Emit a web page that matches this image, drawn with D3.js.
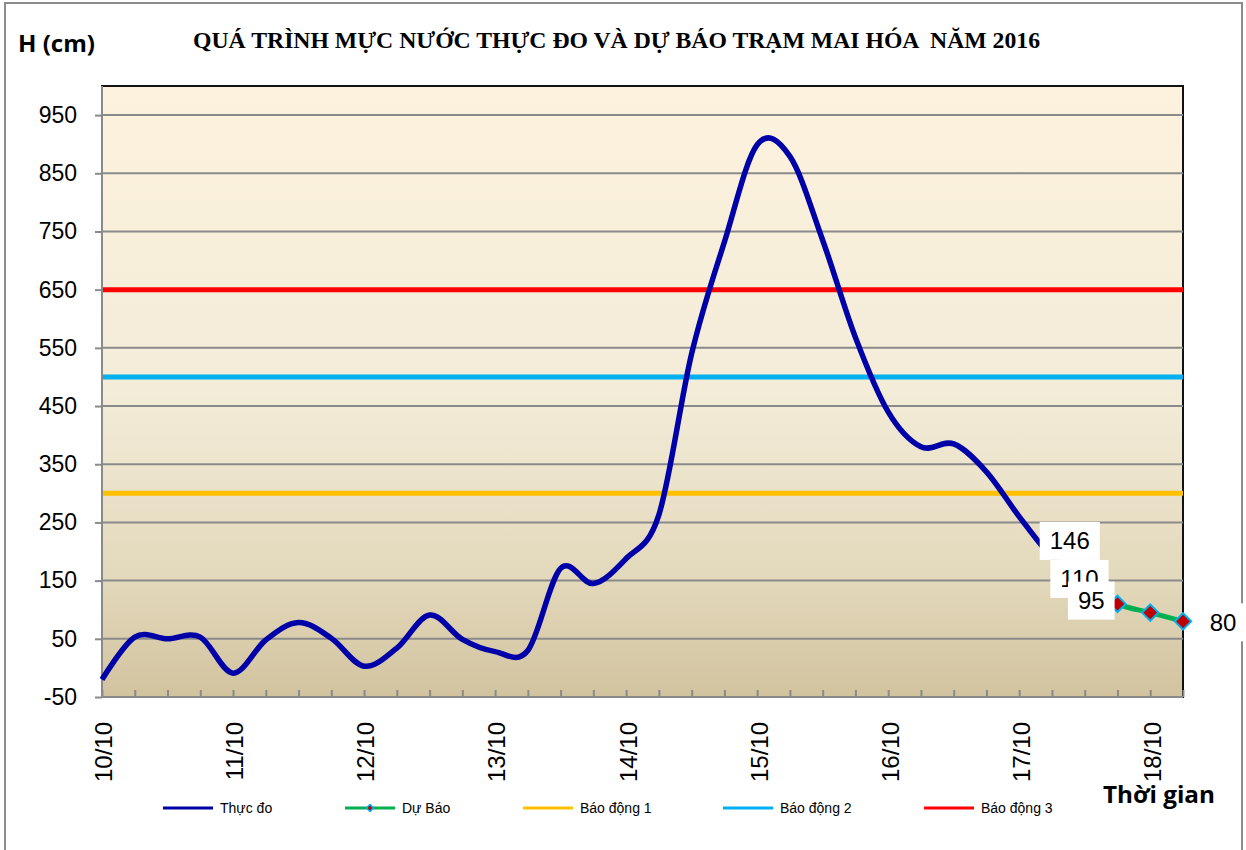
<!DOCTYPE html>
<html>
<head>
<meta charset="utf-8">
<script src="https://cdn.jsdelivr.net/npm/d3@7"></script>
<style>
  body { margin: 0; background: #fff; }
  svg { display: block; }
</style>
</head>
<body>
<div id="chart"></div>
<script>
// data (6-hourly steps starting 10/10 00h)
var dayLabels = ['10/10', '11/10', '12/10', '13/10', '14/10', '15/10', '16/10', '17/10', '18/10'];
var yTicks = [-50, 50, 150, 250, 350, 450, 550, 650, 750, 850, 950];
var thucDo = [-20, 53, 50, 53, -9, 48, 78, 51, 3, 34, 91, 49, 28, 30, 171, 145, 188, 263, 540, 732,
  899, 879, 735, 568, 440, 380, 385, 337, 260, 190, 146];
var duBaoStart = 30;
var duBao = [146, 110, 95, 80];
var baoDong1 = 300, baoDong2 = 500, baoDong3 = 650;

var W = 1246, H = 850;
var plot = {left: 102, top: 86, right: 1183, bottom: 697};

var svg = d3.select('#chart').append('svg')
  .attr('width', W)
  .attr('height', H);

// outer frame
svg.append('rect')
  .attr('x', 5).attr('y', 3)
  .attr('width', 1237).attr('height', 870)
  .style('fill', '#fff')
  .style('stroke', '#8c8c8c')
  .style('stroke-width', 2);

// background gradient of plot area
var grad = svg.append('defs').append('linearGradient')
  .attr('id', 'bg').attr('x1', 0).attr('y1', 0).attr('x2', 0).attr('y2', 1);
[['0%', '#fdf2de'], ['50%', '#f3ecd8'], ['80%', '#e3d9bc'], ['100%', '#d2c39f']].forEach(function (s) {
  grad.append('stop').attr('offset', s[0]).attr('stop-color', s[1]);
});

var nSteps = 33;
var x = d3.scaleLinear().domain([0, nSteps]).range([plot.left, plot.right]);
var y = d3.scaleLinear().domain([-50, 1000]).range([plot.bottom, plot.top]);

svg.append('rect')
  .attr('x', plot.left).attr('y', plot.top)
  .attr('width', plot.right - plot.left).attr('height', plot.bottom - plot.top)
  .style('fill', 'url(#bg)')
  .style('stroke', '#111')
  .style('stroke-width', 2);

// gridlines
svg.selectAll('.grid')
  .data(yTicks)
  .enter()
  .append('line')
  .attr('x1', plot.left).attr('x2', plot.right)
  .attr('y1', function (d) { return y(d); })
  .attr('y2', function (d) { return y(d); })
  .style('stroke', '#8a8a8a')
  .style('stroke-width', 2);

// y axis (plain hyphen for negative numbers, like Excel)
var yAxis = svg.append('g')
  .attr('transform', 'translate(' + plot.left + ',0)')
  .call(d3.axisLeft(y).tickValues(yTicks).tickSize(7).tickPadding(18)
    .tickFormat(function (d) { return String(d); }));
yAxis.select('.domain').attr('d', 'M0,' + plot.top + 'V' + plot.bottom).style('stroke', '#8a8a8a').style('stroke-width', 2);
yAxis.selectAll('.tick line').style('stroke', '#8a8a8a').style('stroke-width', 2);
yAxis.selectAll('.tick text')
  .style('font-family', 'Liberation Sans, Arial, sans-serif')
  .style('font-size', '23px')
  .style('fill', '#000');

// x axis: ticks each 6 hours, labels each day
var xAxis = svg.append('g')
  .attr('transform', 'translate(0,' + plot.bottom + ')')
  .call(d3.axisBottom(x).tickValues(d3.range(0, nSteps + 1)).tickSize(-7).tickFormat(''));
xAxis.select('.domain').attr('d', 'M' + plot.left + ',0H' + plot.right).style('stroke', '#8a8a8a').style('stroke-width', 2);
xAxis.selectAll('.tick line').style('stroke', '#8a8a8a').style('stroke-width', 2);

svg.selectAll('.xlab')
  .data(dayLabels)
  .enter()
  .append('text')
  .attr('transform', function (d, i) {
    return 'translate(' + (x(i * 4) + 2) + ',722) rotate(-90)';
  })
  .attr('dy', '0.35em')
  .style('text-anchor', 'end')
  .style('font-family', 'Liberation Sans, Arial, sans-serif')
  .style('font-size', '24px')
  .text(function (d) { return d; });

// alert levels
var alerts = [
  {v: baoDong1, c: '#ffc000'},
  {v: baoDong2, c: '#00b0f0'},
  {v: baoDong3, c: '#ff0000'}
];
svg.selectAll('.alert')
  .data(alerts)
  .enter()
  .append('line')
  .attr('x1', plot.left + 1).attr('x2', plot.right)
  .attr('y1', function (d) { return y(d.v); })
  .attr('y2', function (d) { return y(d.v); })
  .style('stroke', function (d) { return d.c; })
  .style('stroke-width', 5);

var line = d3.line()
  .x(function (d) { return x(d.i); })
  .y(function (d) { return y(d.v); })
  .curve(d3.curveCardinal.tension(0));

// observed
svg.append('path')
  .datum(thucDo.map(function (v, i) { return {i: i, v: v}; }))
  .attr('d', line)
  .style('fill', 'none')
  .style('stroke', '#0000a8')
  .style('stroke-width', 5.5)
  .style('stroke-linejoin', 'round');

// forecast
var fc = duBao.map(function (v, k) { return {i: duBaoStart + k, v: v}; });
svg.append('path')
  .datum(fc)
  .attr('d', line)
  .style('fill', 'none')
  .style('stroke', '#00b050')
  .style('stroke-width', 5);

var diamond = d3.symbol().type(d3.symbolDiamond2).size(170);
svg.selectAll('.mk')
  .data(fc)
  .enter()
  .append('path')
  .attr('d', diamond)
  .attr('transform', function (d) { return 'translate(' + x(d.i) + ',' + y(d.v) + ')'; })
  .style('fill', '#c00000')
  .style('stroke', '#00b0f0')
  .style('stroke-width', 2);

// data labels (moved by hand like in the original)
var labelShift = [[-15, -42], [-38, -25], [-59, -12], [40, 1]];
fc.forEach(function (d, k) {
  var g = svg.append('g')
    .attr('transform', 'translate(' + (x(d.i) + labelShift[k][0]) + ',' + (y(d.v) + labelShift[k][1]) + ')');
  var bg = g.append('rect').style('fill', '#fff');
  var t = g.append('text')
    .attr('dy', '0.35em')
    .style('text-anchor', 'middle')
    .style('font-family', 'Liberation Sans, Arial, sans-serif')
    .style('font-size', '24px')
    .text(d.v);
  var b = t.node().getBBox();
  bg.attr('x', b.x - 10).attr('y', -19).attr('width', b.width + 20).attr('height', 38);
});

// titles
svg.append('text')
  .attr('x', 193).attr('y', 48)
  .attr('textLength', 847)
  .attr('lengthAdjust', 'spacingAndGlyphs')
  .style('white-space', 'pre')
  .style('font-family', 'Liberation Serif, Times New Roman, serif')
  .style('font-weight', 'bold')
  .style('font-size', '23px')
  .text('QUÁ TRÌNH MỰC NƯỚC THỰC ĐO VÀ DỰ BÁO TRẠM MAI HÓA  NĂM 2016');

svg.append('text')
  .attr('x', 18).attr('y', 52)
  .attr('textLength', 77)
  .attr('lengthAdjust', 'spacingAndGlyphs')
  .style('font-family', 'Open Sans, sans-serif')
  .style('font-weight', 'bold')
  .style('font-size', '24px')
  .text('H (cm)');

svg.append('text')
  .attr('x', 1103).attr('y', 803)
  .attr('textLength', 112)
  .attr('lengthAdjust', 'spacingAndGlyphs')
  .style('font-family', 'Open Sans, sans-serif')
  .style('font-weight', 'bold')
  .style('font-size', '24px')
  .text('Thời gian');

// legend
var legendItems = [
  {name: 'Thực đo', c: '#0000a8', x: 163, marker: false},
  {name: 'Dự Báo', c: '#00b050', x: 345, marker: true},
  {name: 'Báo động 1', c: '#ffc000', x: 523, marker: false},
  {name: 'Báo động 2', c: '#00b0f0', x: 723, marker: false},
  {name: 'Báo động 3', c: '#ff0000', x: 924, marker: false}
];
var lg = svg.selectAll('.lg')
  .data(legendItems)
  .enter()
  .append('g')
  .attr('transform', function (d) { return 'translate(' + d.x + ',808)'; });
lg.append('line')
  .attr('x1', 0).attr('x2', 50)
  .style('stroke', function (d) { return d.c; })
  .style('stroke-width', 3);
lg.filter(function (d) { return d.marker; })
  .append('path')
  .attr('d', d3.symbol().type(d3.symbolDiamond2).size(30))
  .attr('transform', 'translate(25,0)')
  .style('fill', '#c00000')
  .style('stroke', '#00b0f0')
  .style('stroke-width', 1.5);
lg.append('text')
  .attr('x', 57)
  .attr('dy', '0.35em')
  .style('font-family', 'Liberation Sans, Arial, sans-serif')
  .style('font-size', '14px')
  .text(function (d) { return d.name; });
</script>
</body>
</html>
